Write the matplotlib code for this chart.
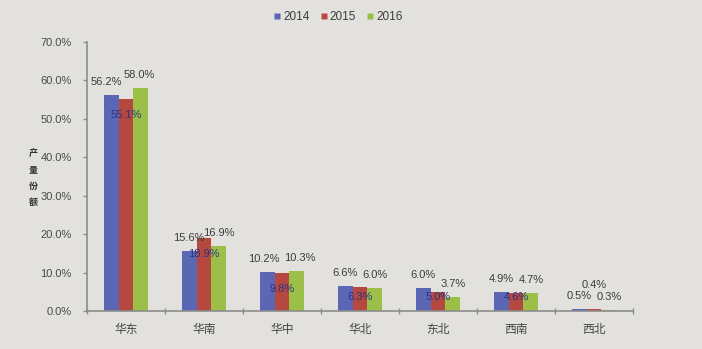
import matplotlib
matplotlib.use('Agg')
import matplotlib.pyplot as plt
from matplotlib.lines import Line2D
from matplotlib.ticker import FuncFormatter
import numpy as np

plt.rcParams['font.family'] = ['Liberation Sans', 'Noto Sans CJK SC']

# Output share by region (%)
regions = ['华东', '华南', '华中', '华北', '东北', '西南', '西北']
years = ['2014', '2015', '2016']
share_2014 = [56.2, 15.6, 10.2, 6.6, 6.0, 4.9, 0.5]
share_2015 = [55.1, 18.9, 9.8, 6.3, 5.0, 4.6, 0.4]
share_2016 = [58.0, 16.9, 10.3, 6.0, 3.7, 4.7, 0.3]
y_ticks = [0, 10, 20, 30, 40, 50, 60, 70]

colors = ['#5b66b5', '#b5483f', '#9bbf48']
text_col = '#3c3c3c'
inside_col = '#2b3384'

fig = plt.figure(figsize=(7.02, 3.49), dpi=100, facecolor='#e3e1de')
ax = fig.add_axes([87 / 702, 38 / 349, 546 / 702, 269 / 349])
ax.set_facecolor('none')

x = np.arange(len(regions))
w = 0.19
series = [share_2014, share_2015, share_2016]
px_per_unit = 269 / 70

# horizontal nudges (pixels) for labels that would otherwise collide
nudge = {(0, 0): -5, (0, 2): -2, (2, 0): -3, (2, 2): 3}

for i, (vals, c) in enumerate(zip(series, colors)):
    xs = x + (i - 1) * w
    ax.bar(xs, vals, width=w, color=c, edgecolor='none', zorder=2)
    for j, (xi, v) in enumerate(zip(xs, vals)):
        label = f'{v:.1f}%'
        if i == 1:
            if v < 1:
                # tiny bar: label lifted above its neighbours
                ax.annotate(label, (xi, v), xytext=(0, 24), textcoords='offset pixels',
                            ha='center', va='center', fontsize=8, color=text_col)
            else:
                ypos = max(v - 16 / px_per_unit, 14 / px_per_unit)
                ax.text(xi, ypos, label, ha='center', va='center',
                        fontsize=8, color=inside_col, zorder=3)
        else:
            dx = nudge.get((j, i), 0)
            ax.annotate(label, (xi, v), xytext=(dx, 13), textcoords='offset pixels',
                        ha='center', va='center', fontsize=8, color=text_col)

ax.set_xlim(-0.5, len(regions) - 0.5)
ax.set_ylim(0, 70)
ax.set_yticks(y_ticks)
ax.yaxis.set_major_formatter(FuncFormatter(lambda v, p: f'{v:.1f}%'))
ax.tick_params(axis='y', direction='out', length=3, width=1, color='#8c8c8c',
               pad=8, labelsize=8, labelcolor='#4a4a4a')

ax.set_xticks(x)
ax.set_xticklabels(regions)
ax.tick_params(axis='x', which='major', length=0, pad=9, labelsize=8.5, labelcolor='#444444')
ax.set_xticks(np.arange(-0.5, len(regions), 1), minor=True)
ax.tick_params(axis='x', which='minor', direction='inout', length=4, width=1, color='#8c8c8c')

for s in ['top', 'right']:
    ax.spines[s].set_visible(False)
for s in ['left', 'bottom']:
    ax.spines[s].set_color('#8c8c8c')
    ax.spines[s].set_linewidth(1.2)

fig.text(33 / 702, 1 - 178 / 349, '产\n量\n份\n额', fontsize=6.5, fontweight='bold',
         linespacing=2.0, ha='center', va='center', color='#333333')

handles = [Line2D([], [], marker='s', linestyle='none', markersize=4,
                  markerfacecolor=c, markeredgecolor='none') for c in colors]
fig.legend(handles, years, loc='center', bbox_to_anchor=(338 / 702, 1 - 17 / 349),
           ncol=3, frameon=False, fontsize=8.5, handlelength=0.6, handletextpad=0.2,
           columnspacing=0.9, labelcolor='#3c3c3c')

fig.savefig('out.png', dpi=100, facecolor=fig.get_facecolor())
